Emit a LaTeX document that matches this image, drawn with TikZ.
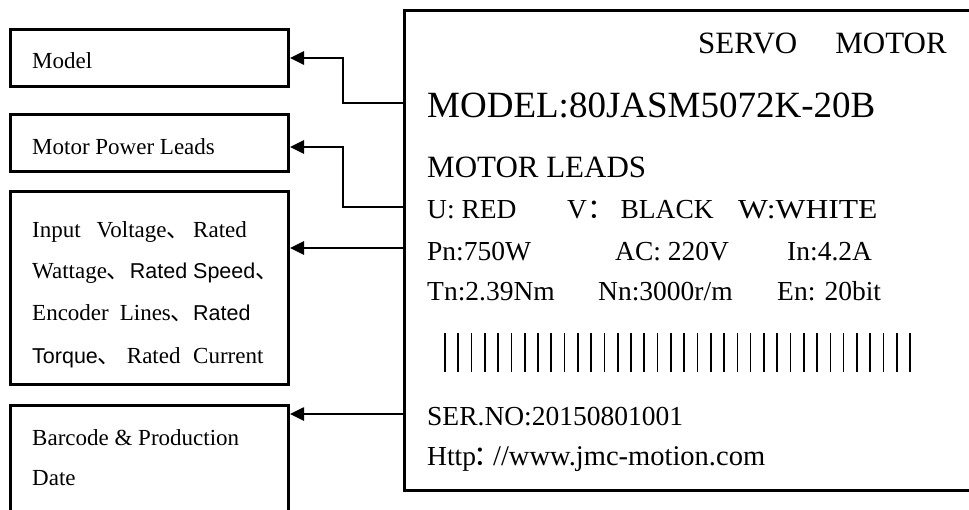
\documentclass[tikz,border=0pt]{standalone}
\usepackage{fontspec}
\setmainfont{Liberation Serif}
\newfontfamily\sansf{Liberation Sans}
\newfontfamily\cjk{Noto Sans CJK SC}
\usetikzlibrary{arrows.meta}
\newcommand{\fs}[1]{\fontsize{#1}{#1}\selectfont}
\begin{document}
\begin{tikzpicture}[x=1pt,y=-1pt,
  lbox/.style={draw,line width=3pt,rectangle,minimum width=278pt,inner sep=0pt,outer sep=0pt,anchor=north west},
  mbox/.style={draw,line width=3pt,rectangle,minimum width=620pt,minimum height=480pt,inner sep=0pt,outer sep=0pt,anchor=north west},
  conn/.style={line width=2.6pt,-{Triangle[length=14pt,width=13pt]},shorten >=1.5pt},
  ltxt/.style={anchor=base west,inner sep=0pt,font=\fs{23}},
  mtxt/.style={anchor=base west,inner sep=0pt,font=\fs{27.5}},
  bar/.style={line width=1.6pt}]
\useasboundingbox (0,0) rectangle (969,509);
% left boxes
\node[lbox,minimum height=57pt] (b1) at (10.5,29.5) {};
\node[lbox,minimum height=57pt] (b2) at (10.5,114) {};
\node[lbox,minimum height=193pt] (b3) at (10.5,191.5) {};
\node[lbox,minimum height=140pt] (b4) at (10.5,405.5) {};
\node[ltxt] (t1) at (32,68) {Model};
\node[ltxt] (t2) at (32,154) {Motor Power Leads};
\node[ltxt] (t3a) at (32,237) {\makebox[161pt][l]{Input\hspace{16pt}Voltage{\cjk 、}}Rated};
\node[ltxt] (t3b) at (32,278) {\makebox[161pt][l]{Wattage{\cjk 、}{\sansf\fs{21.5}Rated}}{\sansf\fs{21.5}Speed}{\cjk 、}};
\node[ltxt] (t3c) at (32,320) {\makebox[161pt][l]{Encoder\hspace{11pt}Lines\makebox[19pt][l]{\cjk 、}}{\sansf\fs{21.5}Rated}};
\node[ltxt] (t3d) at (32,363) {\makebox[161pt][l]{{\sansf\fs{21.5}Torque}{\cjk 、}\hspace{6pt}Rated}Current};
\node[ltxt] (t4a) at (32,445) {Barcode \& Production};
\node[ltxt] (t4b) at (32,485) {Date};
% main label box
\node[mbox] (main) at (404,10) {};
\node[anchor=base west,inner sep=0pt,font=\fs{31}] (servo) at (698,53) {SERVO\hspace{38pt}MOTOR};
\node[anchor=base west,inner sep=0pt,font=\fs{37}] (model) at (427,117) {MODEL:80JASM5072K-20B};
\node[anchor=base west,inner sep=0pt,font=\fs{31}] (leads) at (427,177) {MOTOR LEADS};
\node[mtxt] (u) at (427,218) {U: RED};
\node[mtxt] (v) at (567,218) {V{\cjk ：}\hspace{6pt}BLACK};
\node[mtxt] (w) at (738,218) {\scalebox{1.15}[1]{W:WHITE}};
\node[mtxt] (pn) at (427,260) {Pn:750W};
\node[mtxt] (ac) at (615,260) {AC: 220V};
\node[mtxt] (in) at (787,260) {In:4.2A};
\node[mtxt] (tn) at (427,300) {Tn:2.39Nm};
\node[mtxt] (nn) at (598,300) {Nn:3000r/m};
\node[mtxt] (en) at (777,300) {En: 20bit};
\foreach \i in {0,...,35} {
  \draw[bar] (445+\i*13.286,333) -- (445+\i*13.286,372);
}
\node[mtxt] (ser) at (427,425) {SER.NO:20150801001};
\node[mtxt] (http) at (427,465) {Http\makebox[17pt][l]{\hspace{-3pt}\cjk ：}{\fs{28.5}//www.jmc-motion.com}};
% connectors
\coordinate (s1) at (main.west |- 0,103);
\coordinate (s2) at (main.west |- 0,207);
\coordinate (s3) at (main.west |- 0,248);
\coordinate (s4) at (main.west |- 0,414);
\coordinate (k1) at (343,103);
\coordinate (k2) at (343,207);
\draw[conn] (s1) -- (k1) |- (b1.east);
\draw[conn] (s2) -- (k2) |- ([yshift=-4.5pt]b2.east);
\draw[conn] (s3) -- (b3.east |- s3);
\draw[conn] (s4) -- (b4.east |- s4);
\end{tikzpicture}
\end{document}
